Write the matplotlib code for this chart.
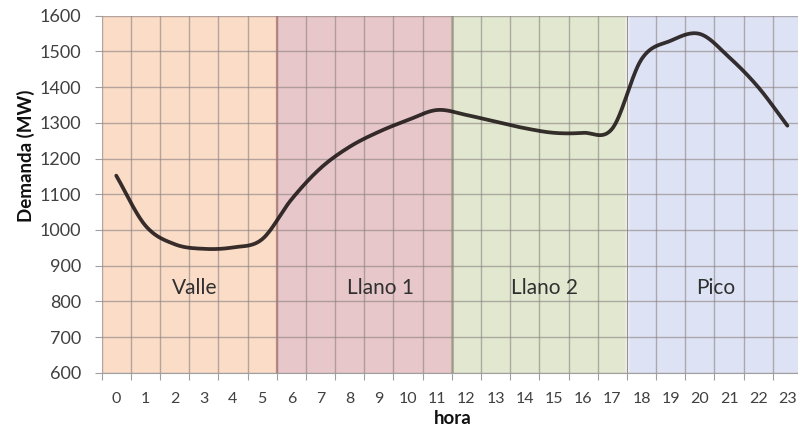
import numpy as np
import matplotlib
matplotlib.use("Agg")
import matplotlib.pyplot as plt

plt.rcParams['font.family'] = ['Lato', 'DejaVu Sans']

# Hourly demand (MW)
horas = list(range(24))
demanda = [1152, 1012, 960, 947, 951, 974, 1085, 1173, 1233, 1275, 1308, 1336,
           1322, 1303, 1285, 1272, 1272, 1284, 1478, 1530, 1549, 1484, 1400, 1292]

# Tariff periods: name, first hour, last hour, fill colour
periodos = ["Valle", "Llano 1", "Llano 2", "Pico"]
inicio = [0, 6, 12, 18]
fin = [5, 11, 17, 23]
colores = ["#fadcc7", "#e7c7ca", "#e1e8cf", "#dde3f4"]
etiqueta_x = [2.68, 9.04, 14.67, 20.55]
etiqueta_y = [836, 836, 836, 836]


def suavizar(x, y, n=30):
    """Catmull-Rom style smoothing, like a spreadsheet 'smoothed line'."""
    x = np.asarray(x, float)
    y = np.asarray(y, float)
    px = np.concatenate([[2 * x[0] - x[1]], x, [2 * x[-1] - x[-2]]])
    py = np.concatenate([[2 * y[0] - y[1]], y, [2 * y[-1] - y[-2]]])
    xs, ys = [], []
    for i in range(1, len(px) - 2):
        t = np.linspace(0, 1, n, endpoint=False)
        p0, p1, p2, p3 = py[i - 1], py[i], py[i + 1], py[i + 2]
        q0, q1, q2, q3 = px[i - 1], px[i], px[i + 1], px[i + 2]
        ys.append(0.5 * (2 * p1 + (-p0 + p2) * t + (2 * p0 - 5 * p1 + 4 * p2 - p3) * t ** 2
                         + (-p0 + 3 * p1 - 3 * p2 + p3) * t ** 3))
        xs.append(0.5 * (2 * q1 + (-q0 + q2) * t + (2 * q0 - 5 * q1 + 4 * q2 - q3) * t ** 2
                         + (-q0 + 3 * q1 - 3 * q2 + q3) * t ** 3))
    xs.append([x[-1]])
    ys.append([y[-1]])
    return np.concatenate(xs), np.concatenate(ys)


fig = plt.figure(figsize=(7.98, 4.28), dpi=100)
ax = fig.add_axes([0.1274, 0.1292, 0.8776, 0.834])

for nombre, a, b, c, tx, ty in zip(periodos, inicio, fin, colores, etiqueta_x, etiqueta_y):
    ax.axvspan(a - 0.5, b + 0.5, color=c, zorder=0, lw=0)
    ax.text(tx, ty, nombre, ha='center', va='center', fontsize=15, color='#303030', zorder=5)

# period borders
ax.axvline(5.5, color='#c98a80', lw=1.6, zorder=2)
ax.axvline(11.5, color='#b9b99c', lw=2.2, zorder=2)
ax.axvline(17.5, color='white', lw=2.5, zorder=2)
ax.axvline(17.5, color='#a8a8a8', lw=0.8, zorder=2)

xs, ys = suavizar(horas, demanda)
ax.plot(xs, ys, color='#1c1414', lw=2.7, alpha=0.88, solid_capstyle='round', zorder=4)

ax.set_xlim(-0.5, 23.5)
ax.set_ylim(600, 1600)
ax.set_yticks(np.arange(600, 1601, 100))
ax.set_xticks(np.arange(-0.5, 24, 1))
ax.set_xticklabels([])
ax.set_xticks(horas, minor=True)
ax.set_xticklabels([str(h) for h in horas], minor=True)

ax.grid(True, which='major', color='#8a8080', lw=1.0, alpha=0.6, zorder=1)
ax.set_axisbelow(False)
for s in ['left', 'right', 'top']:
    ax.spines[s].set_visible(False)
ax.spines['bottom'].set_color('#a0a0a0')
ax.spines['bottom'].set_zorder(3)

ax.tick_params(axis='y', which='major', length=5, color='#a0a0a0', pad=10,
               labelsize=13, labelcolor='#404040')
ax.tick_params(axis='x', which='major', length=5, color='#a0a0a0')
ax.tick_params(axis='x', which='minor', length=0, pad=14, labelsize=11.5, labelcolor='#404040')

fig.text(453 / 798, 1 - 418 / 428, 'hora', ha='center', va='center',
         fontsize=13.5, fontweight='bold', color='#101010')
fig.text(26 / 798, 1 - 156 / 428, 'Demanda (MW)', ha='center', va='center', rotation=90,
         fontsize=13.5, fontweight='bold', color='#101010')

fig.savefig('out.png', dpi=100)
